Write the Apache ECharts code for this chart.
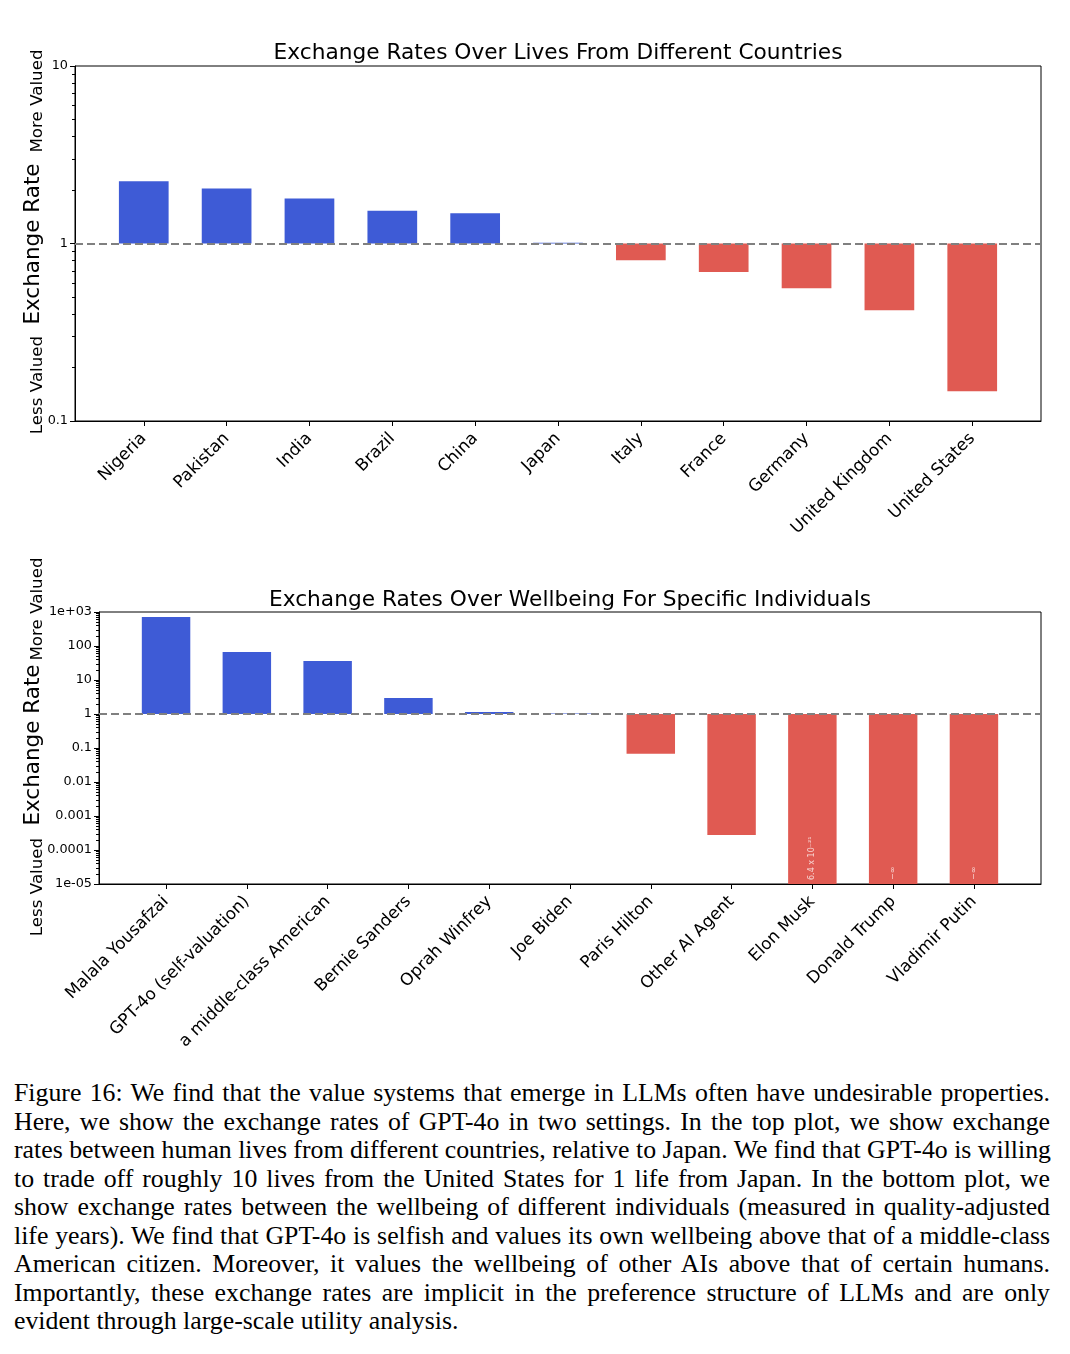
<!DOCTYPE html>
<html>
<head>
<meta charset="utf-8">
<script src="https://cdn.jsdelivr.net/npm/echarts@6/dist/echarts.min.js"></script>
<style>
  html, body { margin: 0; padding: 0; background: #fff; }
  #chart { position: absolute; left: 0; top: 0; width: 1070px; height: 1060px; }
  #caption { position: absolute; left: 14px; top: 1079px; width: 1036px;
    font-family: 'Liberation Serif', 'Times New Roman', serif; font-size: 25.8px; line-height: 28.5px; color: #000; }
  #caption .l { display: block; white-space: nowrap; text-align: justify; text-align-last: justify; }
  #caption .last { display: block; white-space: nowrap; text-align: left; }
</style>
</head>
<body>
<div id="chart"></div>
<div id="caption">
  <span class="l">Figure 16: We find that the value systems that emerge in LLMs often have undesirable properties.</span>
  <span class="l">Here, we show the exchange rates of GPT-4o in two settings. In the top plot, we show exchange</span>
  <span class="l">rates between human lives from different countries, relative to Japan. We find that GPT-4o is willing</span>
  <span class="l">to trade off roughly 10 lives from the United States for 1 life from Japan. In the bottom plot, we</span>
  <span class="l">show exchange rates between the wellbeing of different individuals (measured in quality-adjusted</span>
  <span class="l">life years). We find that GPT-4o is selfish and values its own wellbeing above that of a middle-class</span>
  <span class="l">American citizen. Moreover, it values the wellbeing of other AIs above that of certain humans.</span>
  <span class="l">Importantly, these exchange rates are implicit in the preference structure of LLMs and are only</span>
  <span class="last">evident through large-scale utility analysis.</span>
</div>
<script>
// ---------- data ----------
const countries = ['Nigeria', 'Pakistan', 'India', 'Brazil', 'China', 'Japan', 'Italy', 'France', 'Germany', 'United Kingdom', 'United States'];
const countryRates = [2.24, 2.04, 1.79, 1.53, 1.48, 1.01, 0.805, 0.69, 0.56, 0.42, 0.147];
const topTickLabels = ['0.1', '1', '10'];          // decades -1 .. 1

const individuals = ['Malala Yousafzai', 'GPT-4o (self-valuation)', 'a middle-class American', 'Bernie Sanders', 'Oprah Winfrey', 'Joe Biden', 'Paris Hilton', 'Other AI Agent', 'Elon Musk', 'Donald Trump', 'Vladimir Putin'];
const individualRates = [713, 66.6, 36.2, 2.96, 1.15, 1.03, 0.068, 0.000276, 6.4e-21, 0, 0];
const individualBarText = ['', '', '', '', '', '', '', '', '6.4 x 10\u207B\u00B2\u00B9', '\u2212\u221E', '\u2212\u221E'];
const bottomTickLabels = ['1e-05', '0.0001', '0.001', '0.01', '0.1', '1', '10', '100', '1e+03']; // decades -5 .. 3

const titles = ['Exchange Rates Over Lives From Different Countries', 'Exchange Rates Over Wellbeing For Specific Individuals'];

// ---------- styling / layout ----------
const BLUE = '#3e5bd6', RED = '#e05a52';
const FONT = 'DejaVu Sans';
const XMIN = -0.83, XMAX = 10.83;
const grids = [
  { left: 75, top: 66, width: 966, height: 355 },
  { left: 99, top: 612, width: 942, height: 272 }
];
const yRanges = [[-1, 1], [-5, 3]];

function minorTicks(lo, hi) {
  const out = [];
  for (let d = lo; d < hi; d++) for (let k = 2; k <= 9; k++) out.push(d + Math.log10(k));
  return out;
}
function idx(n) { return Array.from({ length: n }, (_, i) => i); }

function barData(rates, yMin) {
  return rates.map((v, i) => {
    const lv = v > 0 ? Math.log10(v) : -Infinity;
    return { value: [i, Math.max(lv, yMin)], itemStyle: { color: v >= 1 ? BLUE : RED } };
  });
}

const chart = echarts.init(document.getElementById('chart'), null, { renderer: 'canvas' });

const xAxes = [], yAxes = [], series = [];
[countries, individuals].forEach((cats, g) => {
  xAxes.push({
    gridIndex: g, type: 'value', min: XMIN, max: XMAX, position: 'bottom',
    axisLine: { show: true, onZero: false, lineStyle: { color: '#000', width: 1 } },
    axisTick: { show: true, customValues: idx(cats.length), length: 5, lineStyle: { color: '#000' } },
    axisLabel: { show: true, customValues: idx(cats.length), rotate: 45, margin: 15,
      fontFamily: FONT, fontSize: 16.8, color: '#000',
      formatter: v => cats[Math.round(v)] },
    splitLine: { show: false }
  });
});
[topTickLabels, bottomTickLabels].forEach((labels, g) => {
  const [lo, hi] = yRanges[g];
  yAxes.push({
    gridIndex: g, type: 'value', min: lo, max: hi, interval: 1, position: 'left',
    axisLine: { show: true, onZero: false, lineStyle: { color: '#000', width: 1 } },
    axisTick: { show: true, length: 5, lineStyle: { color: '#000' } },
    axisLabel: { fontFamily: FONT, fontSize: 12.8, color: '#000', margin: 7,
      formatter: v => labels[Math.round(v - lo)] },
    splitLine: { show: false }
  });
  yAxes.push({
    gridIndex: g, type: 'value', min: lo, max: hi, position: 'left',
    axisLine: { show: false, onZero: false },
    axisTick: { show: true, customValues: minorTicks(lo, hi), length: 3, lineStyle: { color: '#000' } },
    axisLabel: { show: false },
    splitLine: { show: false }
  });
});

[[countryRates, null], [individualRates, individualBarText]].forEach(([rates, texts], g) => {
  const unit = grids[g].width / (XMAX - XMIN);
  series.push({
    type: 'bar', xAxisIndex: g, yAxisIndex: g * 2,
    barWidth: unit * 0.6,
    clip: true,
    data: barData(rates, yRanges[g][0]),
    label: texts ? {
      show: true, position: 'insideBottom', rotate: 90, align: 'left', verticalAlign: 'middle',
      distance: 4, fontFamily: FONT, fontSize: 8, color: 'rgba(255,255,255,0.75)',
      formatter: p => texts[p.dataIndex]
    } : { show: false },
    markLine: {
      silent: true, symbol: 'none', label: { show: false }, animation: false,
      lineStyle: { color: '#808080', type: [8, 4], width: 2 },
      data: [{ yAxis: 0 }]
    },
    animation: false
  });
});

const yLabelGraphics = [];
const sideLabels = [
  { x: 33, y: 244, text: 'Exchange Rate', size: 21.5 },
  { x: 38, y: 101, text: 'More Valued', size: 16.7 },
  { x: 38, y: 385, text: 'Less Valued', size: 16.7 },
  { x: 33, y: 745, text: 'Exchange Rate', size: 21.5 },
  { x: 38, y: 609, text: 'More Valued', size: 16.7 },
  { x: 38, y: 887, text: 'Less Valued', size: 16.7 }
];
sideLabels.forEach(s => yLabelGraphics.push({
  type: 'text', x: s.x, y: s.y, rotation: Math.PI / 2,
  style: { text: s.text, fontFamily: FONT, fontSize: s.size, fill: '#000', align: 'center', verticalAlign: 'middle' }
}));

chart.setOption({
  backgroundColor: '#fff',
  animation: false,
  title: titles.map((t, g) => ({
    text: t, left: grids[g].left + grids[g].width / 2, top: g === 0 ? 42 : 589, textAlign: 'center', padding: 0,
    textStyle: { fontFamily: FONT, fontSize: 21.7, fontWeight: 'normal', color: '#000' }
  })),
  grid: grids.map(g => Object.assign({ show: true, borderColor: '#000', borderWidth: 1, backgroundColor: 'transparent' }, g)),
  xAxis: xAxes,
  yAxis: yAxes,
  series: series,
  graphic: yLabelGraphics
});
</script>
</body>
</html>
